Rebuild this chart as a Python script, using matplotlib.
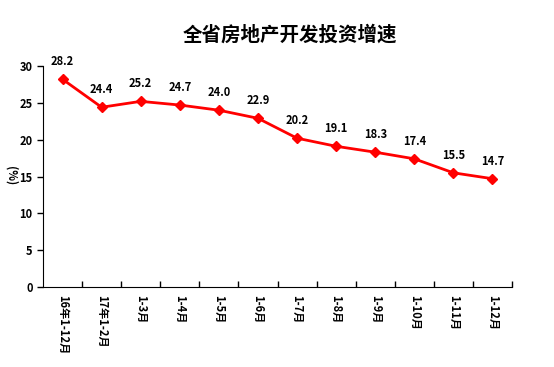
import matplotlib
matplotlib.use("Agg")
import matplotlib.pyplot as plt

plt.rcParams['font.family'] = ['Noto Sans CJK SC', 'DejaVu Sans']

# data
periods = ["16年1-12月", "17年1-2月", "1-3月", "1-4月", "1-5月", "1-6月",
           "1-7月", "1-8月", "1-9月", "1-10月", "1-11月", "1-12月"]
growth = [28.2, 24.4, 25.2, 24.7, 24.0, 22.9, 20.2, 19.1, 18.3, 17.4, 15.5, 14.7]

fig = plt.figure(figsize=(5.54, 3.67), dpi=100)
ax = fig.add_axes([43/554, 1 - 287/367, (512 - 43)/554, (287 - 66)/367])

x = list(range(len(periods)))
ax.plot(x, growth, color="#ff0000", lw=2, marker="D", ms=5, zorder=3)
for xi, v in zip(x, growth):
    ax.annotate(f"{v:.1f}", (xi, v), xytext=(0, 8), textcoords="offset points",
                ha="center", va="bottom", fontsize=8, fontweight="bold")

ax.set_xlim(-0.5, len(periods) - 0.5)
ax.set_ylim(0, 30)
ax.set_yticks(range(0, 31, 5))
ax.tick_params(axis="y", direction="out", length=4, labelsize=8, width=1)
for lbl in ax.get_yticklabels():
    lbl.set_fontweight("bold")

# category boundaries as ticks, labels in the middle
ax.set_xticks([i + 0.5 for i in x], minor=False)
ax.set_xticklabels([])
ax.tick_params(axis="x", direction="in", length=4, width=1)
ax.set_xticks(x, minor=True)
ax.set_xticklabels(periods, minor=True, rotation=-90, fontsize=8, fontweight="bold",
                   va="top", ha="center")
ax.tick_params(axis="x", which="minor", length=0, pad=6)

ax.spines["top"].set_visible(False)
ax.spines["right"].set_visible(False)

# y label sits near the left edge
fig.text(11/554, 1 - 176/367, "(%)", rotation=-90, ha="center", va="center",
         fontsize=8, fontweight="bold")

fig.text(290/554, 1 - 35/367, "全省房地产开发投资增速", ha="center", va="center",
         fontsize=14, fontweight="bold")

fig.savefig("out.png", dpi=100)
